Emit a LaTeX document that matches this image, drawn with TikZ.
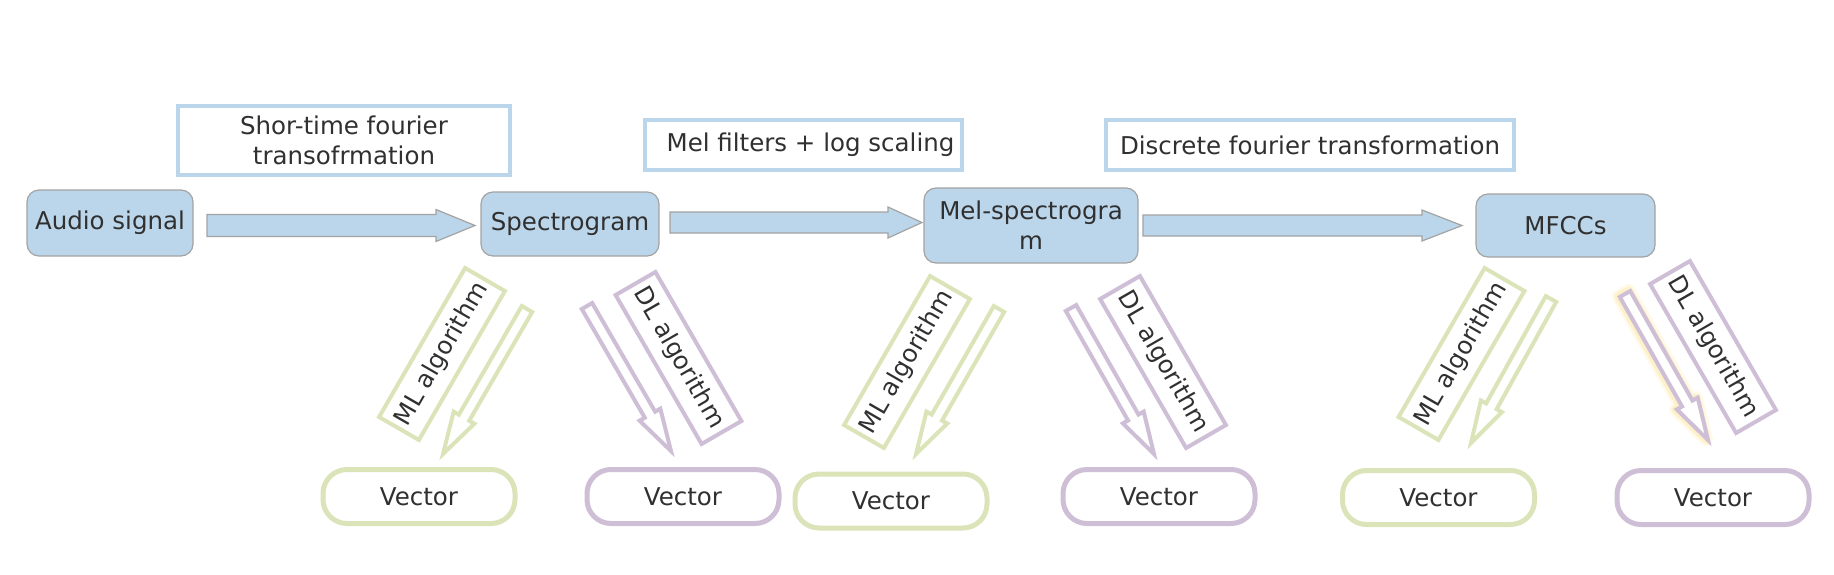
\documentclass[tikz,border=0pt]{standalone}
\usepackage{fontspec}
\setmainfont{DejaVu Sans}
\usetikzlibrary{calc}

\definecolor{boxblue}{HTML}{BBD6EA}
\definecolor{mlgreen}{HTML}{DBE4B9}
\definecolor{dlpurple}{HTML}{CEBFD6}
\definecolor{edgegray}{HTML}{A3A3A3}
\definecolor{textgray}{HTML}{303030}
\definecolor{glowyellow}{HTML}{FCE7A4}

\tikzset{
  stage/.style={draw=edgegray, line width=1.2pt, fill=boxblue, rounded corners=12pt,
    text=textgray, font=\fontsize{24.5}{30}\selectfont, align=center, inner sep=0pt},
  caption/.style={draw=boxblue, line width=4pt, fill=white, text=textgray,
    font=\fontsize{24.5}{30}\selectfont, align=center, inner sep=0pt},
  algo/.style={line width=4pt, fill=white, text=textgray, font=\fontsize{24.5}{30}\selectfont,
    minimum width=172pt, minimum height=46pt, inner sep=0pt},
  vector/.style={line width=5pt, fill=white, rounded corners=24pt, text=textgray,
    font=\fontsize{24.5}{30}\selectfont, minimum width=192pt, minimum height=54pt, inner sep=0pt},
  flow/.style={draw=edgegray, line width=1.2pt, fill=boxblue},
  hollow/.style={line width=4pt, fill=white},
  glow/.style={draw=glowyellow, line join=round},
}

% block arrow: style, tail, tip, shaft half width, head half width, head length
\newcommand{\flowarrow}[6]{%
  \coordinate (fa-base) at ($(#3)!#6!(#2)$);
  \draw[#1] ($(#2)!#4!90:(#3)$) -- ($(fa-base)!#4!90:(#3)$) -- ($(fa-base)!#5!90:(#3)$) -- (#3)
    -- ($(fa-base)!#5!-90:(#3)$) -- ($(fa-base)!#4!-90:(#3)$) -- ($(#2)!#4!-90:(#3)$) -- cycle;
}

\begin{document}
\begin{tikzpicture}[x=1pt, y=-1pt]

    \useasboundingbox (0,0) rectangle (1834,574); % page

    % Stages
    \node[stage, minimum width=166pt, minimum height=66pt] (audio) at (110,223) {Audio signal};
    \node[stage, minimum width=178pt, minimum height=64pt] (spec) at (570,224) {Spectrogram};
    \node[stage, minimum width=214pt, minimum height=75pt] (mel) at (1031,225.5) {Mel-spectrogra\\m};
    \node[stage, minimum width=179pt, minimum height=63pt] (mfcc) at (1565.5,225.5) {MFCCs};

    % Transformation captions
    \node[caption, minimum width=332pt, minimum height=69pt] (stft) at (344,140.5) {Shor-time fourier\\transofrmation};
    \node[caption, minimum width=317pt, minimum height=50pt] (melf) at (803.5,145) {\hspace*{14pt}Mel filters + log scaling};
    \node[caption, minimum width=408pt, minimum height=50pt] (dft) at (1310,145) {Discrete fourier transformation};

    % Flow between stages
    \coordinate (f1s) at (207,225.5);
    \coordinate (f1e) at (475,225.5);
    \coordinate (f2s) at (670,222.5);
    \coordinate (f2e) at (922,222.5);
    \coordinate (f3s) at (1143,225.5);
    \coordinate (f3e) at (1462,225.5);
    \flowarrow{flow}{f1s}{f1e}{11pt}{16pt}{39pt} % Audio -> Spectrogram
    \flowarrow{flow}{f2s}{f2e}{10.5pt}{15.5pt}{34pt} % Spectrogram -> Mel
    \flowarrow{flow}{f3s}{f3e}{10.5pt}{15.5pt}{40pt} % Mel -> MFCCs

    % Algorithm labels
    \node[algo, draw=mlgreen, rotate=60] (ml1) at (442,354) {ML algorithm};
    \node[algo, draw=dlpurple, rotate=-60] (dl1) at (678.5,358) {DL algorithm};
    \node[algo, draw=mlgreen, rotate=60] (ml2) at (907,362) {ML algorithm};
    \node[algo, draw=dlpurple, rotate=-60] (dl2) at (1163,362) {DL algorithm};
    \node[algo, draw=mlgreen, rotate=60] (ml3) at (1461.5,354) {ML algorithm};
    \node[algo, draw=dlpurple, rotate=-60] (dl3) at (1713,347) {DL algorithm};

    % Output vectors
    \node[vector, draw=mlgreen] (vml1) at (419,496.5) {Vector};
    \node[vector, draw=dlpurple] (vdl1) at (683,496.5) {Vector};
    \node[vector, draw=mlgreen] (vml2) at (891,501) {Vector};
    \node[vector, draw=dlpurple] (vdl2) at (1159,496.5) {Vector};
    \node[vector, draw=mlgreen] (vml3) at (1438.5,497.5) {Vector};
    \node[vector, draw=dlpurple] (vdl3) at (1713,497.5) {Vector};

    % Hollow arrows down to the vectors
    \coordinate (a1s) at (527,309);
    \coordinate (a1e) at (443,454);
    \coordinate (b1s) at (587,306);
    \coordinate (b1e) at (671,451);
    \coordinate (a2s) at (999,309);
    \coordinate (a2e) at (916,454);
    \coordinate (b2s) at (1071,308);
    \coordinate (b2e) at (1154,454);
    \coordinate (a3s) at (1551,299);
    \coordinate (a3e) at (1471,443);
    \coordinate (b3s) at (1625,294);
    \coordinate (b3e) at (1708,440);
    \coordinate (g3s) at (1623.5,293.5); % glow, slightly to the left
    \coordinate (g3e) at (1706.5,440);
    \flowarrow{hollow, draw=mlgreen}{a1s}{a1e}{6pt}{12pt}{42pt} % Spectrogram ML
    \flowarrow{hollow, draw=dlpurple}{b1s}{b1e}{6pt}{12pt}{42pt} % Spectrogram DL
    \flowarrow{hollow, draw=mlgreen}{a2s}{a2e}{6pt}{12pt}{42pt} % Mel ML
    \flowarrow{hollow, draw=dlpurple}{b2s}{b2e}{6pt}{12pt}{42pt} % Mel DL
    \flowarrow{hollow, draw=mlgreen}{a3s}{a3e}{6pt}{12pt}{42pt} % MFCCs ML
    \flowarrow{glow, line width=13pt, opacity=0.25}{g3s}{g3e}{6pt}{12pt}{42pt} % halo
    \flowarrow{glow, line width=8pt, opacity=0.45}{g3s}{g3e}{6pt}{12pt}{42pt} % halo
    \flowarrow{hollow, draw=dlpurple}{b3s}{b3e}{6pt}{12pt}{42pt} % MFCCs DL

\end{tikzpicture}
\end{document}
